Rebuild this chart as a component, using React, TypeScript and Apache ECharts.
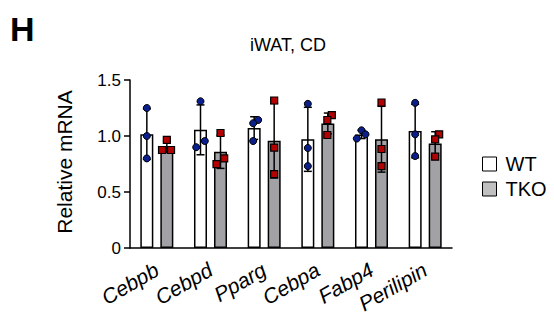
import React, { useEffect, useRef } from "react";
import * as echarts from "echarts";

const categories = ["Cebpb", "Cebpd", "Pparg", "Cebpa", "Fabp4", "Perilipin"];
const wtPoints = [
  [1.25, 1.0, 0.8],
  [1.31, 0.9, 0.955],
  [1.143, 1.114, 0.955],
  [1.287, 0.893, 0.731],
  [1.051, 1.015, 0.977],
  [1.296, 1.015, 0.821],
];
const tkoPoints = [
  [0.965, 0.875, 0.875],
  [1.027, 0.749, 0.8],
  [1.317, 0.896, 0.66],
  [1.186, 1.143, 1.009],
  [1.299, 0.884, 0.731],
  [1.015, 0.97, 0.815],
];
const wtJitter = [
  [0, 0, 0],
  [0, -4.3, 4.3],
  [4, -1, -1],
  [0, 0, 0],
  [0, 4, -4.7],
  [0, 0, 0],
];
const tkoJitter = [
  [0, -4.8, 4.2],
  [0, -4, 3.7],
  [0, 0, 0],
  [4, -0.5, -0.5],
  [0, 0, 0],
  [4, 0, 0],
];
const yTicks = [0, 0.5, 1.0, 1.5];

const mean = (a: number[]) => a.reduce((s, v) => s + v, 0) / a.length;
const sd = (a: number[]) => {
  const m = mean(a);
  return Math.sqrt(a.reduce((s, v) => s + (v - m) * (v - m), 0) / (a.length - 1));
};

const FONT = "'Liberation Sans', Arial, sans-serif";
const GROUP_OFFSET = 10;

export default function App() {
  const ref = useRef<HTMLDivElement>(null);
  useEffect(() => {
    if (!ref.current) return;
    const chart = echarts.init(ref.current, null, { renderer: "svg" });

    const errData = (pts: number[][]) =>
      pts.map((p, i) => [i, mean(p), sd(p)]);
    const ptData = (pts: number[][], jit: number[][]) => {
      const out: number[][] = [];
      pts.forEach((p, i) => p.forEach((v, j) => out.push([i, v, jit[i][j]])));
      return out;
    };

    const errSeries = (name: string, pts: number[][], off: number) => ({
      type: "custom",
      name: name + "_err",
      z: 5,
      silent: true,
      data: errData(pts),
      renderItem: (params: any, api: any) => {
        const ci = api.value(0);
        const m = api.value(1);
        const s = api.value(2);
        const c = api.coord([ci, m]);
        const x = c[0] + off;
        const yt = api.coord([ci, m + s])[1];
        const yb = api.coord([ci, m - s])[1];
        const hw = 4;
        const st = { stroke: "#000", lineWidth: 1.5, fill: null };
        return {
          type: "group",
          children: [
            { type: "line", shape: { x1: x, y1: yt, x2: x, y2: yb }, style: st },
            { type: "line", shape: { x1: x - hw, y1: yt, x2: x + hw, y2: yt }, style: st },
            { type: "line", shape: { x1: x - hw, y1: yb, x2: x + hw, y2: yb }, style: st },
          ],
        };
      },
    });

    const ptSeries = (name: string, pts: number[][], jit: number[][], off: number, circle: boolean) => ({
      type: "custom",
      name: name + "_pts",
      z: 6,
      silent: true,
      data: ptData(pts, jit),
      renderItem: (params: any, api: any) => {
        const ci = api.value(0);
        const v = api.value(1);
        const j = api.value(2);
        const c = api.coord([ci, v]);
        const x = c[0] + off + j;
        const y = c[1];
        if (circle) {
          return {
            type: "circle",
            shape: { cx: x, cy: y, r: 3.5 },
            style: { fill: "#0b1f8c", stroke: "#000", lineWidth: 1 },
          };
        }
        return {
          type: "rect",
          shape: { x: x - 3.5, y: y - 3.5, width: 7, height: 7 },
          style: { fill: "#b30000", stroke: "#000", lineWidth: 1.2 },
        };
      },
    });

    chart.setOption({
      animation: false,
      textStyle: { fontFamily: FONT },
      grid: { left: 130, right: 102, top: 80, bottom: 72, containLabel: false },
      legend: {
        orient: "vertical",
        left: 477,
        top: 149,
        itemWidth: 14,
        itemHeight: 14,
        itemGap: 5,
        icon: "rect",
        textStyle: { fontSize: 20, color: "#000", fontFamily: FONT, padding: [0, 0, 0, 4] },
        data: [
          { name: "WT", itemStyle: { color: "#ffffff", borderColor: "#000", borderWidth: 1 } },
          { name: "TKO", itemStyle: { color: "#c0c0c0", borderColor: "#000", borderWidth: 1 } },
        ],
      },
      xAxis: {
        type: "category",
        data: categories,
        axisLine: { lineStyle: { color: "#000", width: 1.5 } },
        axisTick: { alignWithLabel: true, length: 8, lineStyle: { color: "#000", width: 1.5 } },
        axisLabel: {
          interval: 0,
          rotate: 30,
          fontStyle: "italic",
          fontSize: 21,
          color: "#000",
          margin: 20,
          fontFamily: FONT,
        },
      },
      yAxis: {
        type: "value",
        min: yTicks[0],
        max: yTicks[yTicks.length - 1],
        interval: 0.5,
        splitLine: { show: false },
        axisLine: { show: true, lineStyle: { color: "#000", width: 1.5 } },
        axisTick: { show: true, length: 6, lineStyle: { color: "#000", width: 1.5 } },
        axisLabel: {
          fontSize: 17,
          color: "#000",
          margin: 9,
          fontFamily: FONT,
          formatter: (v: number) => (v === 0 ? "0" : v.toFixed(1)),
        },
      },
      series: [
        {
          name: "WT",
          type: "bar",
          barWidth: 13,
          barGap: "54%",
          data: wtPoints.map((p) => mean(p)),
          itemStyle: { color: "#ffffff", borderColor: "#000", borderWidth: 1.5 },
        },
        {
          name: "TKO",
          type: "bar",
          barWidth: 13,
          barGap: "54%",
          data: tkoPoints.map((p) => mean(p)),
          itemStyle: { color: "#a2a2a6", borderColor: "#000", borderWidth: 1.5 },
        },
        errSeries("WT", wtPoints, -GROUP_OFFSET),
        errSeries("TKO", tkoPoints, GROUP_OFFSET),
        ptSeries("WT", wtPoints, wtJitter, -GROUP_OFFSET, true),
        ptSeries("TKO", tkoPoints, tkoJitter, GROUP_OFFSET, false),
      ],
      graphic: [
        {
          type: "text",
          left: 10,
          top: 12,
          style: { text: "H", font: `bold 34px ${FONT}`, fill: "#000" },
        },
        {
          type: "text",
          x: 288,
          y: 45,
          style: {
            text: "iWAT, CD",
            font: `18px ${FONT}`,
            fill: "#000",
            textAlign: "center",
            textVerticalAlign: "middle",
          },
        },
        {
          type: "text",
          x: 64,
          y: 162,
          rotation: Math.PI / 2,
          style: {
            text: "Relative mRNA",
            font: `21px ${FONT}`,
            fill: "#000",
            textAlign: "center",
            textVerticalAlign: "middle",
          },
        },
      ],
    });
    return () => chart.dispose();
  }, []);
  return (
    <div
      ref={ref}
      style={{ position: "fixed", left: 0, top: 0, width: 554, height: 320, background: "#fff" }}
    />
  );
}
